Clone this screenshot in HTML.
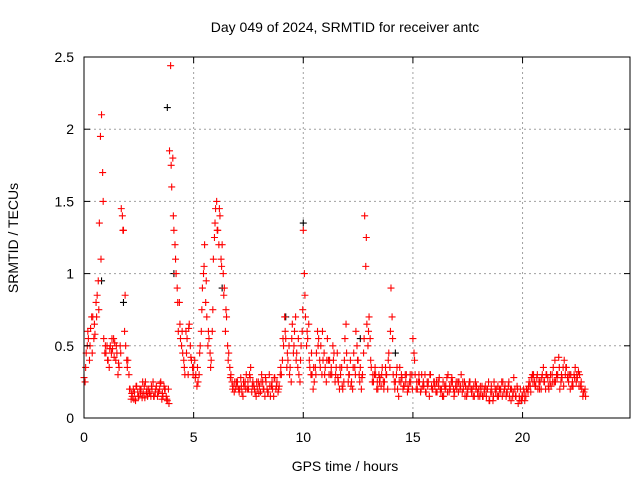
<!DOCTYPE html>
<html><head><meta charset="utf-8"><style>
body{margin:0;background:#fff}
svg{display:block;font-family:"Liberation Sans",sans-serif}
</style></head><body>
<svg id="c" width="640" height="480">
<rect width="640" height="480" fill="#fff"/>
<text x="345" y="32" text-anchor="middle" font-size="14">Day 049 of 2024, SRMTID for receiver antc</text>
<text x="345" y="471" text-anchor="middle" font-size="14">GPS time / hours</text>
<text transform="translate(18,238) rotate(-90)" text-anchor="middle" font-size="14">SRMTID / TECUs</text>
<g id="grid"></g><g id="marks"></g><g id="axes"></g>
</svg>
<script>
const xTicks=[0,5,10,15,20];
const yTicks=[0,0.5,1,1.5,2,2.5];
const yTickLabels=["0","0.5","1","1.5","2","2.5"];
const redA=[0.28,0.45,0.55,0.62,0.7,0.58,0.85,1.35,2.1,0.55,
0.45,0.4,0.5,0.48,0.52,0.45,0.35,1.45,1.3,0.5,
0.4,0.2,0.15,0.18,0.22,0.15,0.2,0.17,0.25,0.15,
0.18,0.2,0.15,0.22,0.18,0.25,0.15,0.2,0.12,1.85,
1.6,1.3,1.0,0.6,0.55,0.45,0.3,0.55,0.65,0.4,
0.35,0.3,0.25,0.5,0.9,1.2,0.7,0.55,0.4,1.1,
1.45,1.3,1.4,1.2,0.9,0.7,0.45,0.3,0.22,0.2,
0.25,0.2,0.18,0.22,0.3,0.2,0.35,0.25,0.18,0.2,
0.22,0.3,0.2,0.25,0.18,0.15,0.2,0.28,0.25,0.22,
0.3,0.5,0.55,0.4,0.35,0.65,0.6,0.45,0.3,0.5,
1.3,0.7,0.55,0.35,0.3,0.25,0.45,0.55,0.5,0.4,
0.35,0.55,0.4,0.3,0.45,0.35,0.25,0.3,0.2,0.55,
0.35,0.3,0.25,0.45,0.6,0.4,0.35,0.3,1.4,0.65,
0.7,0.35,0.25,0.3,0.2,0.28,0.35,0.25,0.3,0.45,
0.9,0.3,0.25,0.2,0.35,0.28,0.22,0.3,0.2,0.25,
0.55,0.3,0.2,0.25,0.3,0.22,0.18,0.25,0.3,0.2,
0.22,0.18,0.28,0.2,0.15,0.22,0.3,0.2,0.25,0.18,
0.2,0.25,0.3,0.2,0.22,0.18,0.25,0.2,0.15,0.22,
0.2,0.18,0.15,0.22,0.2,0.12,0.18,0.25,0.2,0.15,
0.2,0.25,0.22,0.18,0.15,0.2,0.28,0.15,0.1,0.2,
0.15,0.12,0.2,0.25,0.28,0.3,0.22,0.2,0.25,0.3,
0.25,0.3,0.2,0.22,0.35,0.25,0.3,0.2,0.28,0.4,
0.35,0.25,0.3,0.22,0.35,0.28,0.3,0.2,0.18];
const redB=[0.25,0.5,0.4,0.7,0.55,0.8,0.95,1.95,1.7,0.45,
0.5,0.35,0.45,0.55,0.4,0.3,0.5,1.4,0.6,0.4,
0.3,0.13,0.2,0.12,0.18,0.2,0.14,0.22,0.18,0.2,
0.15,0.25,0.18,0.15,0.2,0.13,0.22,0.15,0.2,2.44,
1.8,1.2,0.9,0.8,0.5,0.4,0.6,0.3,0.5,0.35,
0.4,0.22,0.3,0.6,1.0,0.8,0.5,0.45,0.6,1.25,
1.5,1.2,1.1,1.0,0.6,0.5,0.35,0.25,0.18,0.25,
0.2,0.28,0.15,0.25,0.2,0.3,0.18,0.22,0.15,0.25,
0.18,0.25,0.15,0.2,0.3,0.22,0.15,0.2,0.18,0.3,
0.4,0.7,0.35,0.5,0.25,0.45,0.7,0.35,0.25,0.6,
1.0,0.5,0.65,0.3,0.2,0.35,0.6,0.4,0.3,0.45,
0.25,0.4,0.3,0.5,0.25,0.45,0.2,0.35,0.25,0.65,
0.25,0.4,0.2,0.35,0.5,0.3,0.2,0.45,1.05,0.5,
0.55,0.25,0.3,0.2,0.3,0.22,0.25,0.35,0.2,0.35,
0.7,0.25,0.3,0.15,0.25,0.2,0.3,0.18,0.25,0.3,
0.45,0.2,0.25,0.18,0.22,0.3,0.25,0.15,0.22,0.25,
0.18,0.25,0.2,0.15,0.22,0.28,0.18,0.25,0.2,0.22,
0.25,0.2,0.18,0.25,0.15,0.22,0.2,0.15,0.25,0.18,
0.15,0.22,0.2,0.15,0.25,0.18,0.12,0.2,0.15,0.2,
0.25,0.18,0.15,0.22,0.2,0.15,0.2,0.22,0.15,0.12,
0.2,0.15,0.18,0.22,0.3,0.25,0.28,0.25,0.2,0.35,
0.2,0.28,0.25,0.3,0.25,0.3,0.42,0.25,0.35,0.3,
0.28,0.3,0.22,0.3,0.25,0.32,0.22,0.15,0.2];
const redC=[0.35,0.6,0.5,0.45,0.65,0.7,0.75,1.1,1.5,0.5,
0.4,0.48,0.55,0.42,0.5,0.38,0.45,1.3,0.85,0.35,
0.2,0.17,0.13,0.22,0.15,0.18,0.25,0.14,0.2,0.17,
0.22,0.15,0.2,0.18,0.24,0.17,0.2,0.13,0.1,1.75,
1.4,1.1,0.8,0.65,0.6,0.35,0.45,0.62,0.42,0.3,
0.28,0.35,0.45,0.75,1.05,0.95,0.6,0.35,0.75,1.35,
1.3,1.45,1.05,0.85,0.75,0.4,0.28,0.2,0.25,0.22,
0.18,0.22,0.25,0.2,0.25,0.28,0.22,0.2,0.25,0.17,
0.25,0.2,0.28,0.18,0.22,0.25,0.28,0.22,0.2,0.35,
0.55,0.6,0.45,0.3,0.55,0.5,0.4,0.55,0.4,0.75,
0.85,0.6,0.4,0.45,0.35,0.3,0.5,0.35,0.6,0.3,
0.4,0.3,0.35,0.4,0.3,0.28,0.35,0.22,0.4,0.45,
0.3,0.22,0.35,0.3,0.4,0.25,0.28,0.55,1.25,0.6,
0.4,0.3,0.35,0.25,0.25,0.3,0.2,0.3,0.4,0.6,
0.55,0.2,0.35,0.25,0.3,0.22,0.25,0.22,0.3,0.2,
0.4,0.25,0.3,0.2,0.25,0.18,0.22,0.3,0.2,0.25,
0.25,0.22,0.18,0.25,0.2,0.18,0.22,0.28,0.15,0.25,
0.18,0.22,0.25,0.15,0.2,0.25,0.18,0.22,0.2,0.15,
0.22,0.15,0.18,0.2,0.12,0.22,0.15,0.18,0.22,0.18,
0.15,0.2,0.18,0.25,0.12,0.18,0.15,0.2,0.12,0.15,
0.18,0.2,0.22,0.18,0.25,0.22,0.3,0.2,0.28,0.25,
0.3,0.22,0.3,0.25,0.4,0.28,0.35,0.3,0.22,0.35,
0.3,0.2,0.25,0.28,0.3,0.22,0.25,0.18,0.15];
const blackTimes=[0.8,1.8,3.8,4.1,6.3,9.2,10.0,12.6,14.2];
const blackVals=[0.95,0.8,2.15,1.0,0.9,0.7,1.35,0.55,0.45];

const L=84,R=630,T=57,B=418,XMAX=24.9,YMAX=2.5;
const sx=v=>L+(R-L)*v/XMAX, sy=v=>B-(B-T)*v/YMAX;
const NS="http://www.w3.org/2000/svg";
const mk=(tag,at,par)=>{const e=document.createElementNS(NS,tag);for(const k in at)e.setAttribute(k,at[k]);par.appendChild(e);return e;};
const grid=document.getElementById('grid'),axes=document.getElementById('axes'),marks=document.getElementById('marks');
xTicks.forEach(t=>{const x=sx(t);
 if(t>0){const g=mk('line',{x1:x,x2:x,y1:T,y2:B,stroke:'#a0a0a0','stroke-dasharray':'2,3'},grid);}
 mk('line',{x1:x,x2:x,y1:B,y2:B-6,stroke:'#000'},axes);mk('line',{x1:x,x2:x,y1:T,y2:T+6,stroke:'#000'},axes);
 const tx=mk('text',{x:x,y:B+24,'text-anchor':'middle','font-size':14},axes);tx.textContent=t;
 });
yTicks.forEach((t,i)=>{const y=sy(t);
 if(t>0&&t<YMAX){const g=mk('line',{x1:L,x2:R,y1:y,y2:y,stroke:'#a0a0a0','stroke-dasharray':'2,3'},grid);}
 mk('line',{x1:L,x2:L+6,y1:y,y2:y,stroke:'#000'},axes);mk('line',{x1:R,x2:R-6,y1:y,y2:y,stroke:'#000'},axes);
 const tx=mk('text',{x:L-10,y:y+5,'text-anchor':'end','font-size':14},axes);tx.textContent=yTickLabels[i];
 });
const fr=mk('rect',{x:L,y:T,width:R-L,height:B-T,fill:'none',stroke:'#000'},axes);

function plus(x,y,col,name){const p=mk('path',{d:`M${x-3.5},${y}h7M${x},${y-3.5}v7`,stroke:col,'stroke-width':1.1},marks);
 }
blackTimes.forEach((t,i)=>plus(sx(t),sy(blackVals[i]),'#000','black-point'));
redA.forEach((v,i)=>plus(sx(i*0.1),sy(v),'#f00','red-point'));
redB.forEach((v,i)=>plus(sx(i*0.1+0.05),sy(v),'#f00','red-point'));
redC.forEach((v,i)=>plus(sx(i*0.1+0.075),sy(v),'#f00','red-point'));
</script>
</body></html>
